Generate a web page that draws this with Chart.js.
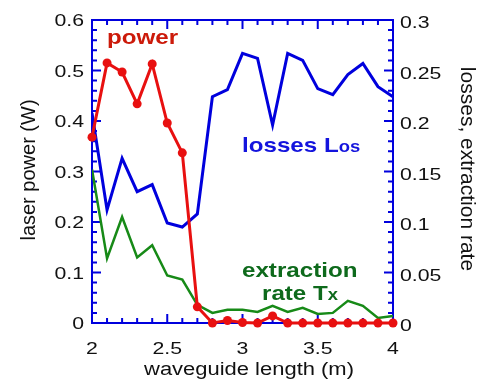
<!DOCTYPE html>
<html>
<head>
<meta charset="utf-8">
<script src="https://cdn.jsdelivr.net/npm/chart.js@4.4.0/dist/chart.umd.min.js"></script>
<style>
  html, body { margin: 0; padding: 0; background: #fff; }
  #wrap { width: 484px; height: 381px; }
</style>
</head>
<body>
<div id="wrap"><canvas id="grafica" width="484" height="381"></canvas></div>
<script>
// waveguide length (m)
const longitud = [2.0, 2.1, 2.2, 2.3, 2.4, 2.5, 2.6, 2.7, 2.8, 2.9, 3.0, 3.1, 3.2, 3.3, 3.4, 3.5, 3.6, 3.7, 3.8, 3.9, 4.0];
// laser power (W), left axis
const potencia = [0.368, 0.515, 0.497, 0.434, 0.513, 0.396, 0.337, 0.032, 0.0, 0.005, 0.001, 0.0, 0.014, 0.0, 0.0, 0.0, 0.0, 0.0, 0.0, 0.0, 0.0];
// losses Los, right axis
const perdidas = [0.208, 0.112, 0.163, 0.130, 0.137, 0.099, 0.095, 0.108, 0.224, 0.231, 0.267, 0.262, 0.196, 0.267, 0.260, 0.232, 0.226, 0.246, 0.257, 0.234, 0.224];
// extraction rate Tx, right axis
const extraccion = [0.152, 0.064, 0.105, 0.065, 0.077, 0.047, 0.043, 0.018, 0.010, 0.013, 0.013, 0.011, 0.017, 0.011, 0.015, 0.009, 0.010, 0.022, 0.017, 0.005, 0.007];

const ticksX = [2, 2.5, 3, 3.5, 4];
const etiquetasX = ['2', '2.5', '3', '3.5', '4'];
const ticksIzq = [0, 0.1, 0.2, 0.3, 0.4, 0.5, 0.6];
const etiquetasIzq = ['0', '0.1', '0.2', '0.3', '0.4', '0.5', '0.6'];
const ticksDer = [0, 0.05, 0.1, 0.15, 0.2, 0.25, 0.3];
const etiquetasDer = ['0', '0.05', '0.1', '0.15', '0.2', '0.25', '0.3'];

const AZUL = '#0000dd';
const FUENTE = '"Liberation Sans", Arial, sans-serif';

function puntos(ys) {
  return longitud.map((x, i) => ({ x: x, y: ys[i] }));
}

// texto estirado en horizontal, como en la figura original
function texto(ctx, t, x, y, opts) {
  ctx.save();
  ctx.translate(x, y);
  if (opts.rot) ctx.rotate(opts.rot);
  ctx.scale(opts.sx || 1, 1);
  ctx.font = opts.font;
  ctx.fillStyle = opts.color || '#000';
  ctx.textAlign = opts.align || 'left';
  ctx.textBaseline = 'alphabetic';
  ctx.fillText(t, 0, 0);
  ctx.restore();
}

function conSubindice(ctx, base, sub, x, y, size, color, sx) {
  ctx.save();
  ctx.font = 'bold ' + size + 'px ' + FUENTE;
  const w = ctx.measureText(base).width * sx;
  ctx.restore();
  texto(ctx, base, x, y, { font: 'bold ' + size + 'px ' + FUENTE, color: color, sx: sx });
  texto(ctx, sub, x + w, y, { font: 'bold ' + Math.round(size * 0.78) + 'px ' + FUENTE, color: color, sx: sx });
}

const marco = {
  id: 'marco',
  beforeDatasetsDraw(chart) {
    const { ctx, chartArea: a, scales } = chart;
    const x = scales.x, y = scales.y, y2 = scales.y2;
    ctx.save();
    ctx.strokeStyle = AZUL;
    ctx.lineWidth = 2;
    ctx.strokeRect(a.left, a.top, a.right - a.left, a.bottom - a.top);
    ctx.beginPath();
    for (let i = 0; i <= 20; i++) {
      const px = x.getPixelForValue(2 + i * 0.1);
      const l = i % 5 === 0 ? 9 : 5;
      ctx.moveTo(px, a.bottom); ctx.lineTo(px, a.bottom - l);
      ctx.moveTo(px, a.top); ctx.lineTo(px, a.top + l);
    }
    for (let i = 0; i <= 30; i++) {
      const py = y.getPixelForValue(i * 0.02);
      const l = i % 5 === 0 ? 9 : 5;
      ctx.moveTo(a.left, py); ctx.lineTo(a.left + l, py);
    }
    for (let i = 0; i <= 30; i++) {
      const py = y2.getPixelForValue(i * 0.01);
      const l = i % 5 === 0 ? 9 : 5;
      ctx.moveTo(a.right, py); ctx.lineTo(a.right - l, py);
    }
    ctx.stroke();
    ctx.restore();
  },
  afterDraw(chart) {
    const { ctx, chartArea: a, scales } = chart;
    const fTick = '17px ' + FUENTE;
    ticksX.forEach((v, i) => {
      texto(ctx, etiquetasX[i], scales.x.getPixelForValue(v), 354, { font: fTick, align: 'center', sx: 1.25, color: '#111' });
    });
    ticksIzq.forEach((v, i) => {
      texto(ctx, etiquetasIzq[i], 84, scales.y.getPixelForValue(v) + 6, { font: fTick, align: 'right', sx: 1.25, color: '#111' });
    });
    ticksDer.forEach((v, i) => {
      texto(ctx, etiquetasDer[i], 400, scales.y2.getPixelForValue(v) + 8, { font: fTick, align: 'left', sx: 1.25, color: '#111' });
    });

    // titulos de ejes
    texto(ctx, 'waveguide length (m)', 249, 375, { font: '18px ' + FUENTE, align: 'center', sx: 1.22, color: '#111' });
    texto(ctx, 'laser power (W)', 35, 170, { font: '20px ' + FUENTE, align: 'center', rot: -Math.PI / 2, color: '#111' });
    texto(ctx, 'losses, extraction rate', 461, 169, { font: '21px ' + FUENTE, align: 'center', rot: Math.PI / 2, color: '#111' });

    // rotulos de las curvas
    texto(ctx, 'power', 107, 44, { font: 'bold 21px ' + FUENTE, color: '#cc1a0a', sx: 1.15 });
    conSubindice(ctx, 'losses L', 'os', 242, 152, 21, '#1414dd', 1.15);
    texto(ctx, 'extraction', 242, 277, { font: 'bold 21px ' + FUENTE, color: '#0e6a1c', sx: 1.15 });
    conSubindice(ctx, 'rate T', 'x', 262, 300, 21, '#0e6a1c', 1.15);
  }
};

const ctx = document.getElementById('grafica').getContext('2d');
new Chart(ctx, {
  type: 'line',
  data: {
    datasets: [
      {
        label: 'power',
        data: puntos(potencia),
        yAxisID: 'y',
        borderColor: '#e81010',
        backgroundColor: '#e81010',
        borderWidth: 3,
        pointRadius: 4.5,
        pointBorderWidth: 0,
        tension: 0,
        clip: 8
      },
      {
        label: 'losses Los',
        data: puntos(perdidas),
        yAxisID: 'y2',
        borderColor: AZUL,
        borderWidth: 3,
        pointRadius: 0,
        tension: 0
      },
      {
        label: 'extraction rate Tx',
        data: puntos(extraccion),
        yAxisID: 'y2',
        borderColor: '#178a17',
        borderWidth: 2.5,
        pointRadius: 0,
        tension: 0
      }
    ]
  },
  options: {
    responsive: false,
    animation: false,
    devicePixelRatio: 1,
    layout: { padding: { top: 20, left: 0, right: 0, bottom: 0 } },
    plugins: {
      legend: { display: false },
      tooltip: { enabled: false }
    },
    scales: {
      x: {
        type: 'linear', min: 2, max: 4,
        grid: { display: false }, border: { display: false },
        ticks: { display: false },
        afterFit: (s) => { s.height = 58; }
      },
      y: {
        position: 'left', min: 0, max: 0.6,
        grid: { display: false }, border: { display: false },
        ticks: { display: false },
        afterFit: (s) => { s.width = 92; }
      },
      y2: {
        position: 'right', min: 0, max: 0.3,
        grid: { display: false }, border: { display: false },
        ticks: { display: false },
        afterFit: (s) => { s.width = 91; }
      }
    }
  },
  plugins: [marco]
});
</script>
</body>
</html>
